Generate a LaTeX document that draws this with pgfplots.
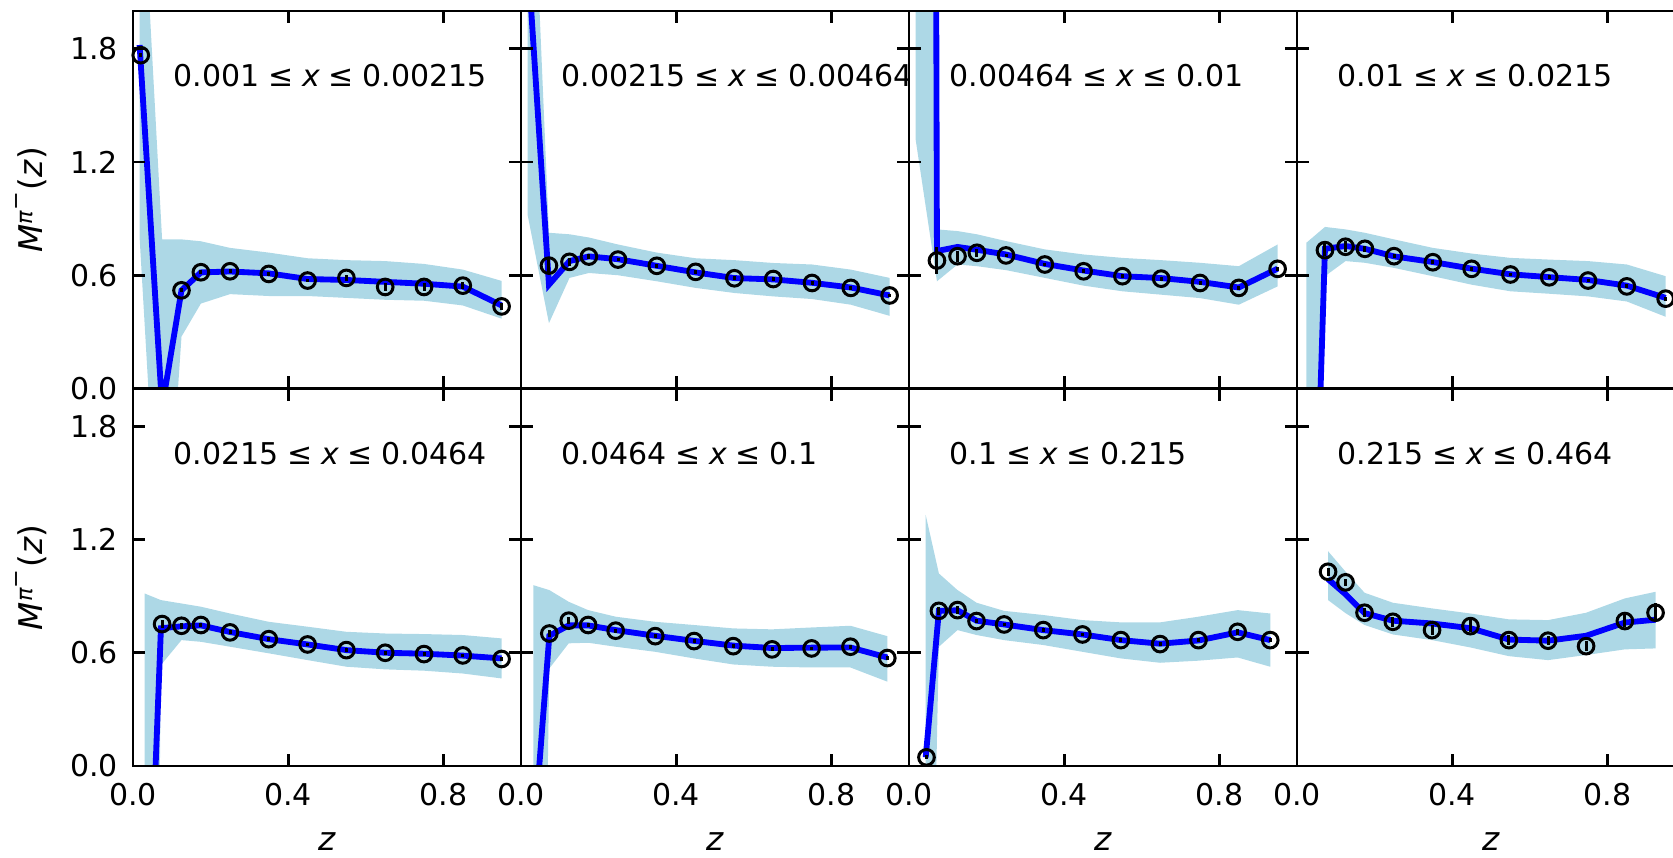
\documentclass[border=0pt]{standalone}
\usepackage{fontspec}
\setmainfont{DejaVu Sans}
\usepackage{pgfplots}
\pgfplotsset{compat=1.18}
\usepackage{pgfplotstable}
\usepgfplotslibrary{fillbetween}
\definecolor{bandc}{RGB}{173,216,230}
\newcommand\fs{\fontsize{9}{10.8}\selectfont}
\newcommand\fl{\fontsize{9.8}{11.8}\selectfont}
\newcommand\mylq{\hspace{0.29em}≤\hspace{0.29em}}

% theory band + curve: z lo hi th ; data: z y e
\pgfplotstableread{
z lo hi th
0.017 0.80 3.00 1.82
0.075 -1.25 0.79 -0.10
0.125 0.275 0.79 0.52
0.175 0.45 0.78 0.615
0.25 0.50 0.745 0.62
0.35 0.49 0.72 0.61
0.45 0.49 0.69 0.58
0.55 0.48 0.68 0.575
0.65 0.47 0.675 0.565
0.75 0.465 0.66 0.555
0.85 0.44 0.63 0.54
0.95 0.37 0.57 0.44
}\TA
\pgfplotstableread{
z y e
0.02 1.766 0.01
0.125 0.52 0.01
0.175 0.616 0.01
0.25 0.621 0.01
0.35 0.607 0.01
0.45 0.572 0.01
0.55 0.586 0.015
0.65 0.538 0.02
0.75 0.538 0.02
0.85 0.545 0.02
0.95 0.435 0.02
}\DA
\pgfplotstableread{
z lo hi th
0.017 0.92 3.5 2.3
0.072 0.346 0.825 0.55
0.125 0.586 0.817 0.675
0.175 0.612 0.80 0.70
0.25 0.60 0.763 0.685
0.35 0.568 0.72 0.65
0.45 0.533 0.69 0.615
0.55 0.506 0.68 0.585
0.65 0.488 0.665 0.578
0.75 0.474 0.657 0.56
0.85 0.444 0.63 0.535
0.95 0.385 0.586 0.493
}\TB
\pgfplotstableread{
z y e
0.072 0.651 0.04
0.125 0.671 0.02
0.175 0.699 0.015
0.25 0.683 0.01
0.35 0.65 0.01
0.45 0.618 0.01
0.55 0.584 0.01
0.65 0.58 0.01
0.75 0.559 0.01
0.85 0.533 0.01
0.95 0.493 0.01
}\DB
\pgfplotstableread{
z lo hi th
0.017 1.32 12 40
0.072 0.568 0.843 0.728
0.125 0.657 0.834 0.75
0.175 0.648 0.817 0.735
0.25 0.627 0.781 0.71
0.35 0.586 0.737 0.66
0.45 0.545 0.71 0.625
0.55 0.515 0.692 0.595
0.65 0.497 0.68 0.585
0.75 0.479 0.666 0.565
0.85 0.444 0.648 0.535
0.95 0.541 0.763 0.635
}\TC
\pgfplotstableread{
z y e
0.072 0.678 0.07
0.125 0.701 0.03
0.175 0.719 0.02
0.25 0.705 0.01
0.35 0.657 0.01
0.45 0.621 0.01
0.55 0.595 0.01
0.65 0.582 0.01
0.75 0.559 0.01
0.85 0.533 0.01
0.95 0.634 0.01
}\DC
\pgfplotstableread{
z lo hi th
0.024 -5 0.772 -2.4
0.072 0.595 0.856 0.74
0.125 0.675 0.843 0.755
0.175 0.666 0.825 0.74
0.25 0.639 0.79 0.70
0.35 0.595 0.745 0.67
0.45 0.55 0.715 0.635
0.55 0.515 0.692 0.605
0.65 0.502 0.683 0.59
0.75 0.488 0.675 0.575
0.85 0.461 0.657 0.545
0.95 0.38 0.595 0.48
}\TD
\pgfplotstableread{
z y e
0.072 0.733 0.03
0.125 0.751 0.03
0.175 0.74 0.015
0.25 0.701 0.01
0.35 0.669 0.01
0.45 0.634 0.01
0.55 0.604 0.01
0.65 0.589 0.01
0.75 0.572 0.01
0.85 0.541 0.01
0.95 0.476 0.01
}\DD
\pgfplotstableread{
z lo hi th
0.03 -8 0.914 -1.5
0.072 0.535 0.879 0.73
0.125 0.667 0.861 0.74
0.175 0.658 0.844 0.745
0.25 0.632 0.808 0.71
0.35 0.597 0.764 0.672
0.45 0.561 0.738 0.644
0.55 0.526 0.711 0.614
0.65 0.512 0.702 0.60
0.75 0.505 0.699 0.595
0.85 0.49 0.694 0.585
0.95 0.464 0.676 0.57
}\TE
\pgfplotstableread{
z y e
0.075 0.752 0.02
0.125 0.743 0.015
0.175 0.747 0.01
0.25 0.708 0.01
0.35 0.672 0.01
0.45 0.644 0.01
0.55 0.614 0.01
0.65 0.60 0.01
0.75 0.593 0.01
0.85 0.586 0.01
0.95 0.567 0.01
}\DE
\pgfplotstableread{
z lo hi th
0.032 -5 0.958 -0.4
0.073 0.517 0.932 0.69
0.123 0.65 0.87 0.745
0.173 0.653 0.826 0.745
0.244 0.632 0.791 0.72
0.346 0.605 0.764 0.69
0.446 0.57 0.747 0.663
0.547 0.538 0.729 0.638
0.647 0.526 0.724 0.625
0.749 0.522 0.734 0.627
0.849 0.522 0.743 0.628
0.944 0.447 0.688 0.575
}\TF
\pgfplotstableread{
z y e
0.073 0.702 0.02
0.123 0.77 0.02
0.173 0.747 0.01
0.244 0.717 0.01
0.346 0.688 0.01
0.446 0.662 0.01
0.547 0.635 0.01
0.647 0.618 0.01
0.749 0.623 0.01
0.849 0.632 0.01
0.944 0.572 0.01
}\DF
\pgfplotstableread{
z lo hi th
0.043 -2.7 1.33 0.046
0.077 0.632 1.02 0.822
0.125 0.72 0.932 0.825
0.174 0.694 0.865 0.77
0.245 0.667 0.822 0.75
0.346 0.641 0.80 0.72
0.447 0.605 0.773 0.697
0.546 0.57 0.761 0.667
0.647 0.547 0.761 0.648
0.746 0.558 0.791 0.665
0.847 0.575 0.826 0.708
0.931 0.526 0.808 0.667
}\TG
\pgfplotstableread{
z y e
0.045 0.046 0.01
0.077 0.822 0.02
0.125 0.826 0.02
0.174 0.768 0.01
0.245 0.75 0.01
0.346 0.72 0.01
0.447 0.697 0.01
0.546 0.667 0.01
0.647 0.646 0.01
0.746 0.667 0.01
0.847 0.711 0.015
0.931 0.667 0.01
}\DG
\pgfplotstableread{
z lo hi th
0.08 0.879 1.138 0.99
0.125 0.81 1.03 0.91
0.174 0.747 0.918 0.81
0.247 0.697 0.865 0.77
0.348 0.667 0.835 0.755
0.447 0.628 0.808 0.73
0.546 0.582 0.777 0.67
0.647 0.561 0.773 0.664
0.745 0.588 0.812 0.69
0.845 0.618 0.888 0.76
0.924 0.623 0.923 0.775
}\TH
\pgfplotstableread{
z y e
0.08 1.029 0.02
0.125 0.973 0.02
0.174 0.812 0.025
0.247 0.764 0.025
0.348 0.72 0.025
0.447 0.741 0.03
0.546 0.667 0.025
0.647 0.664 0.025
0.745 0.635 0.025
0.845 0.768 0.03
0.924 0.812 0.05
}\DH

\tikzset{ttl/.style={anchor=west, font=\fs, inner sep=0pt}}
\pgfplotsset{
  panel/.style={
    scale only axis, width=116.4pt, height=113.25pt, anchor=south west,
    xmin=0, xmax=1, ymin=0, ymax=2,
    xtick={0,0.4,0.8}, ytick={0,0.6,1.2,1.8},
    xticklabels={}, yticklabels={},
    tick align=inside, major tick length=3.6pt,
    every tick/.style={black, line width=0.8pt},
    axis line style={line width=0.8pt},
    tick label style={font=\fs},
    xticklabel style={yshift=-1.5pt},
    yticklabel style={xshift=-1pt},
    /pgf/number format/assume math mode=true,
    every axis y label/.style={at={(axis description cs:-0.262,0.5)}, rotate=90, anchor=center, font=\fl},
    every axis x label/.style={at={(axis description cs:0.5,-0.2)}, anchor=center, font=\fl},
    axis on top,
  },
  leftcol/.style={yticklabels={0.0,0.6,1.2,1.8},
    ylabel={\textit{M}\raisebox{0.31em}{\fontsize{6.7}{8}\selectfont\textit{π}}\raisebox{0.6em}{\fontsize{6.7}{8}\selectfont −}\hspace{0.05em}(\textit{z})}},
  botrow/.style={xticklabels={0.0,0.4,0.8}, xlabel={\textit{z}}},
  thline/.style={blue, line width=1.75pt},
  datapts/.style={only marks, mark=o, mark size=2.35pt, black, mark options={line width=0.9pt},
    error bars/.cd, y dir=both, y explicit, error mark=none, error bar style={line width=0.9pt, black}},
}

\newcommand\panelplots[2]{%
  \addplot[name path=hi, draw=none, forget plot] table[x=z,y=hi]{#1};
  \addplot[name path=lo, draw=none, forget plot] table[x=z,y=lo]{#1};
  \addplot[bandc, draw=none] fill between[of=hi and lo];
  \addplot[thline] table[x=z,y=th]{#1};
  \addplot[datapts] table[x=z,y=y,y error=e]{#2};
}

\begin{document}
\begin{tikzpicture}
\begin{axis}[panel, leftcol, at={(0pt,113.25pt)}]
\panelplots{\TA}{\DA}
\node[ttl] at (rel axis cs:0.103,0.828) {0.001\mylq\textit{x}\mylq0.00215};
\end{axis}
\begin{axis}[panel, at={(116.4pt,113.25pt)}]
\panelplots{\TB}{\DB}
\node[ttl] at (rel axis cs:0.103,0.828) {0.00215\mylq\textit{x}\mylq0.00464};
\end{axis}
\begin{axis}[panel, at={(232.8pt,113.25pt)}]
\panelplots{\TC}{\DC}
\node[ttl] at (rel axis cs:0.103,0.828) {0.00464\mylq\textit{x}\mylq0.01};
\end{axis}
\begin{axis}[panel, at={(349.2pt,113.25pt)}]
\panelplots{\TD}{\DD}
\node[ttl] at (rel axis cs:0.103,0.828) {0.01\mylq\textit{x}\mylq0.0215};
\end{axis}
\begin{axis}[panel, leftcol, botrow, at={(0pt,0pt)}]
\panelplots{\TE}{\DE}
\node[ttl] at (rel axis cs:0.103,0.828) {0.0215\mylq\textit{x}\mylq0.0464};
\end{axis}
\begin{axis}[panel, botrow, at={(116.4pt,0pt)}]
\panelplots{\TF}{\DF}
\node[ttl] at (rel axis cs:0.103,0.828) {0.0464\mylq\textit{x}\mylq0.1};
\end{axis}
\begin{axis}[panel, botrow, at={(232.8pt,0pt)}]
\panelplots{\TG}{\DG}
\node[ttl] at (rel axis cs:0.103,0.828) {0.1\mylq\textit{x}\mylq0.215};
\end{axis}
\begin{axis}[panel, botrow, at={(349.2pt,0pt)}]
\panelplots{\TH}{\DH}
\node[ttl] at (rel axis cs:0.103,0.828) {0.215\mylq\textit{x}\mylq0.464};
\end{axis}
\pgfresetboundingbox
\path[use as bounding box] (-39.9pt,-27.3pt) rectangle (462pt,229.8pt);
\end{tikzpicture}
\end{document}
